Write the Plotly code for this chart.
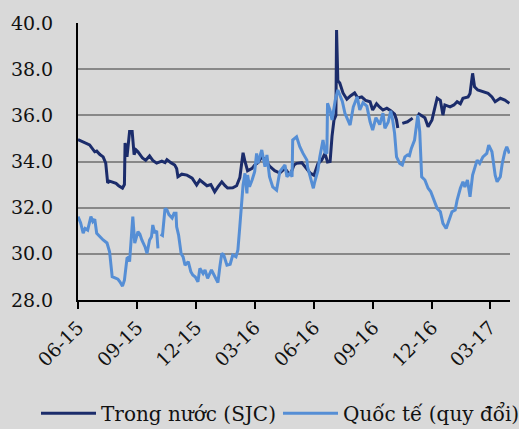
import plotly.graph_objects as go

# Giá vàng trong nước (SJC), triệu đồng/lượng
sjc_dates = [
    "2015-06-01", "2015-06-09", "2015-06-19", "2015-06-27", "2015-06-30", "2015-07-05",
    "2015-07-10", "2015-07-14", "2015-07-17", "2015-07-20", "2015-07-25", "2015-07-30",
    "2015-08-03", "2015-08-09", "2015-08-12", "2015-08-13", "2015-08-16", "2015-08-20",
    "2015-08-24", "2015-08-27", "2015-08-30", "2015-09-02", "2015-09-09", "2015-09-14",
    "2015-09-20", "2015-09-25", "2015-10-01", "2015-10-09", "2015-10-14", "2015-10-17",
    "2015-10-23", "2015-10-29", "2015-11-01", "2015-11-03", "2015-11-09", "2015-11-17",
    "2015-11-25", "2015-12-02", "2015-12-07", "2015-12-13", "2015-12-18", "2015-12-24",
    "2015-12-30", "2016-01-04", "2016-01-10", "2016-01-15", "2016-01-19", "2016-01-27",
    "2016-02-02", "2016-02-07", "2016-02-12", "2016-02-15", "2016-02-19", "2016-02-26",
    "2016-03-01", "2016-03-06", "2016-03-12", "2016-03-18", "2016-03-24", "2016-04-01",
    "2016-04-09", "2016-04-17", "2016-04-25", "2016-05-01", "2016-05-05", "2016-05-13",
    "2016-05-18", "2016-05-26", "2016-06-01", "2016-06-07", "2016-06-13", "2016-06-18",
    "2016-06-22", "2016-06-26", "2016-06-29", "2016-07-02", "2016-07-05", "2016-07-06",
    "2016-07-08", "2016-07-11", "2016-07-16", "2016-07-22", "2016-07-28", "2016-08-03",
    "2016-08-08", "2016-08-14", "2016-08-20", "2016-08-27", "2016-08-31", "2016-09-06",
    "2016-09-11", "2016-09-16", "2016-09-22", "2016-09-28", "2016-10-04", "2016-10-07",
    "2016-10-09", "2016-10-12", "2016-10-16", "2016-10-24", "2016-11-01", "2016-11-05",
    "2016-11-09", "2016-11-14", "2016-11-20", "2016-11-25", "2016-12-01", "2016-12-06",
    "2016-12-09", "2016-12-14", "2016-12-17", "2016-12-18", "2016-12-21", "2016-12-29",
    "2017-01-04", "2017-01-09", "2017-01-14", "2017-01-18", "2017-01-26", "2017-01-29",
    "2017-02-02", "2017-02-05", "2017-02-10", "2017-02-18", "2017-02-26", "2017-03-04",
    "2017-03-09", "2017-03-17", "2017-03-24", "2017-03-31",
]
sjc_values = [
    34.95, 34.85, 34.72, 34.42, 34.45, 34.30,
    34.20, 33.93, 33.07, 33.15, 33.10, 33.05,
    32.95, 32.85, 33.00, 34.80, 34.20, 35.30,
    35.30, 34.30, 34.50, 34.42, 34.15, 34.05,
    34.24, 34.05, 33.93, 34.02, 33.95, 34.08,
    33.95, 33.85, 33.70, 33.34, 33.45, 33.41,
    33.28, 32.98, 33.20, 33.05, 32.95, 33.00,
    32.69, 32.90, 33.12, 32.95, 32.85, 32.86,
    32.95, 33.30, 34.38, 34.00, 33.60, 33.70,
    33.85, 33.95, 34.20, 34.05, 33.80, 33.60,
    33.50, 33.70, 33.40, 33.85, 33.92, 33.95,
    33.77, 33.50, 33.40, 33.90, 34.06, 34.35,
    33.98, 34.00, 35.10, 35.80, 36.00, 39.70,
    37.50, 37.40, 36.97, 36.70, 36.85, 36.97,
    36.75, 36.80, 36.65, 36.59, 36.23, 36.50,
    36.35, 36.23, 36.31, 36.20, 36.05, 35.80,
    35.45, None, 35.65, 35.72, 35.88, None,
    36.09, 36.00, 35.90, 35.51, 35.80, 36.40,
    36.74, 36.65, 36.10, 36.01, 36.45, 36.37,
    36.45, 36.59, 36.50, 36.74, 36.80, 36.95,
    37.82, 37.24, 37.10, 37.02, 36.95, 36.80,
    36.59, 36.74, 36.66, 36.52,
]

# Giá vàng quốc tế quy đổi, triệu đồng/lượng
intl_dates = [
    "2015-06-01", "2015-06-05", "2015-06-09", "2015-06-12", "2015-06-16", "2015-06-21",
    "2015-06-24", "2015-06-27", "2015-06-30", "2015-07-05", "2015-07-10", "2015-07-16",
    "2015-07-20", "2015-07-24", "2015-07-28", "2015-08-02", "2015-08-05", "2015-08-09",
    "2015-08-12", "2015-08-16", "2015-08-18", "2015-08-20", "2015-08-25", "2015-08-28",
    "2015-09-02", "2015-09-05", "2015-09-08", "2015-09-13", "2015-09-16", "2015-09-20",
    "2015-09-23", "2015-09-25", "2015-09-28", "2015-10-01", "2015-10-03", "2015-10-05",
    "2015-10-07", "2015-10-10", "2015-10-14", "2015-10-17", "2015-10-20", "2015-10-25",
    "2015-10-28", "2015-10-31", "2015-11-01", "2015-11-04", "2015-11-08", "2015-11-11",
    "2015-11-14", "2015-11-19", "2015-11-23", "2015-11-26", "2015-11-30", "2015-12-04",
    "2015-12-07", "2015-12-12", "2015-12-15", "2015-12-19", "2015-12-25", "2015-12-30",
    "2016-01-04", "2016-01-07", "2016-01-10", "2016-01-13", "2016-01-18", "2016-01-23",
    "2016-01-27", "2016-02-01", "2016-02-04", "2016-02-07", "2016-02-10", "2016-02-12",
    "2016-02-15", "2016-02-18", "2016-02-19", "2016-02-22", "2016-02-26", "2016-03-01",
    "2016-03-04", "2016-03-06", "2016-03-12", "2016-03-17", "2016-03-20", "2016-03-24",
    "2016-03-29", "2016-04-04", "2016-04-09", "2016-04-14", "2016-04-17", "2016-04-20",
    "2016-04-25", "2016-04-28", "2016-04-29", "2016-05-05", "2016-05-10", "2016-05-15",
    "2016-05-21", "2016-05-22", "2016-05-26", "2016-05-31", "2016-06-02", "2016-06-07",
    "2016-06-10", "2016-06-15", "2016-06-18", "2016-06-21", "2016-06-22", "2016-06-26",
    "2016-06-29", "2016-07-04", "2016-07-08", "2016-07-15", "2016-07-19", "2016-07-24",
    "2016-07-27", "2016-08-01", "2016-08-07", "2016-08-11", "2016-08-16", "2016-08-22",
    "2016-08-27", "2016-08-31", "2016-09-05", "2016-09-11", "2016-09-16", "2016-09-19",
    "2016-09-24", "2016-09-28", "2016-10-01", "2016-10-04", "2016-10-07", "2016-10-12",
    "2016-10-16", "2016-10-20", "2016-10-24", "2016-10-27", "2016-10-30", "2016-11-04",
    "2016-11-07", "2016-11-09", "2016-11-12", "2016-11-15", "2016-11-20", "2016-11-25",
    "2016-11-29", "2016-12-02", "2016-12-09", "2016-12-14", "2016-12-18", "2016-12-23",
    "2016-12-26", "2017-01-01", "2017-01-06", "2017-01-09", "2017-01-14", "2017-01-18",
    "2017-01-21", "2017-01-25", "2017-01-29", "2017-02-02", "2017-02-09", "2017-02-13",
    "2017-02-18", "2017-02-24", "2017-02-27", "2017-03-04", "2017-03-09", "2017-03-12",
    "2017-03-17", "2017-03-20", "2017-03-24", "2017-03-27", "2017-03-31",
]
intl_values = [
    31.61, 31.35, 30.90, 31.10, 31.03, 31.61,
    31.40, 31.50, 30.89, 30.74, 30.60, 30.47,
    30.09, 29.01, 28.95, 28.90, 28.79, 28.60,
    28.86, 29.81, 29.85, 29.66, 31.61, 30.46,
    30.96, 30.85, 30.60, 30.30, 30.02, 30.60,
    30.74, 31.25, 30.90, 31.00, 30.24, None,
    30.85, 30.80, 31.97, 31.90, 31.70, 31.55,
    31.76, 31.76, 31.17, 30.81, 30.00, 29.87,
    29.51, 29.66, 29.23, 29.08, 29.00, 28.79,
    29.37, 29.15, 29.30, 28.94, 29.30, 29.05,
    28.75, 29.44, 30.02, 29.95, 29.51, 29.55,
    29.95, 29.87, 30.17, 31.20, 32.19, 32.98,
    33.49, 32.62, 33.41, 32.91, 33.20, 33.56,
    34.35, 33.92, 34.50, 33.77, 34.28, 33.34,
    32.90, 32.76, 33.56, 33.77, 33.85, 33.34,
    33.50, 33.34, 34.93, 35.07, 34.64, 34.35,
    34.06, 33.77, 33.34, 32.84, 33.10, 33.60,
    34.20, 34.93, 34.40, 34.35, 36.52, 36.20,
    35.80, 36.66, 37.10, 36.60, 36.09, 35.80,
    35.58, 36.37, 36.80, 36.23, 36.55, 36.40,
    35.72, 35.36, 35.90, 35.60, 36.09, 35.44,
    35.70, 36.20, 35.80, 35.22, 34.20, 33.92,
    33.85, 34.20, 34.28, 34.25, 34.57, 34.93,
    35.65, 36.01, 35.30, 33.34, 33.20, 32.84,
    32.70, 32.47, 31.97, 31.82, 31.32, 31.10,
    31.32, 31.82, 31.90, 32.33, 32.84, 33.12,
    32.90, 33.20, 32.47, 33.41, 34.06, 33.92,
    34.20, 34.35, 34.71, 34.42, 33.41, 33.12,
    33.34, 33.92, 34.42, 34.64, 34.35,
]

series_names = ["Trong nước (SJC)", "Quốc tế (quy đổi)"]
series_colors = ["#1b2c6b", "#558ed5"]

FONT = "DejaVu Serif"
TEXT = "#111111"

fig = go.Figure()
fig.add_trace(go.Scatter(
    x=sjc_dates, y=sjc_values, name=series_names[0], mode="lines",
    line=dict(color=series_colors[0], width=3), connectgaps=False,
    legend="legend",
))
fig.add_trace(go.Scatter(
    x=intl_dates, y=intl_values, name=series_names[1], mode="lines",
    line=dict(color=series_colors[1], width=3), connectgaps=False,
    legend="legend2",
))

# one legend box per series so the two entries sit side by side on one row
legend_common = dict(
    orientation="h",
    xref="container", xanchor="left",
    yref="container", y=0.037, yanchor="middle",
    font=dict(family=FONT, size=20, color=TEXT),
    bgcolor="rgba(0,0,0,0)", itemwidth=55, borderwidth=0,
)

fig.update_layout(
    width=519, height=429,
    margin=dict(l=78, r=9, t=23, b=129, autoexpand=False),
    paper_bgcolor="#d9d9d9",
    plot_bgcolor="#d9d9d9",
    font=dict(family=FONT, size=19, color=TEXT),
    showlegend=True,
    legend=dict(x=36 / 519, **legend_common),
    legend2=dict(x=278 / 519, **legend_common),
)

fig.update_xaxes(
    type="date",
    range=["2015-06-01", "2017-04-01"],
    tick0="2015-06-01", dtick="M3", tickformat="%m-%y",
    tickangle=-45, automargin=False,
    ticks="outside", ticklen=7, tickwidth=2, tickcolor="#000000",
    showline=True, linecolor="#000000", linewidth=2,
    showgrid=False, zeroline=False,
    tickfont=dict(family=FONT, size=19, color=TEXT),
)
fig.update_yaxes(
    range=[28, 40], dtick=2, tick0=28, tickformat=".1f",
    automargin=False,
    showline=True, linecolor="#000000", linewidth=2,
    showgrid=True, gridcolor="#888888", gridwidth=2,
    zeroline=False, ticks="", ticklabelstandoff=19,
    tickfont=dict(family=FONT, size=19, color=TEXT),
)

fig.write_html("out.html")
